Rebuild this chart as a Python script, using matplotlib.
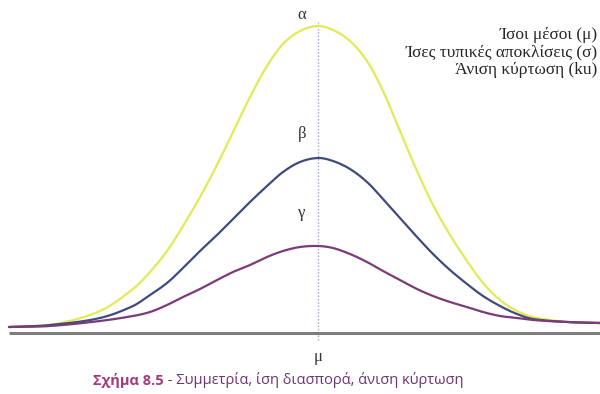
import numpy as np
import matplotlib
matplotlib.use("Agg")
import matplotlib.pyplot as plt

# Horizontal position relative to the common mean (μ = 0)
x_pos = [-3.09, -2.68, -2.18, -1.85, -1.68, -1.51, -1.35, -1.18, -1.01, -0.85,
         -0.68, -0.51, -0.35, -0.18, 0.00, 0.15, 0.32, 0.49, 0.65, 0.82,
         0.99, 1.15, 1.32, 1.49, 1.65, 1.82, 1.99, 2.15, 2.49, 2.82]

# Curve heights of the three distributions
alpha_vals = [0.06, 0.08, 0.22, 0.44, 0.61, 0.82, 1.07, 1.36, 1.68, 2.01,
              2.36, 2.67, 2.89, 3.02, 3.07, 3.03, 2.92, 2.72, 2.42, 2.02,
              1.62, 1.28, 0.98, 0.72, 0.50, 0.33, 0.22, 0.16, 0.11, 0.10]
beta_vals = [0.06, 0.08, 0.15, 0.27, 0.38, 0.50, 0.65, 0.82, 0.98, 1.14,
             1.31, 1.47, 1.61, 1.71, 1.75, 1.72, 1.64, 1.51, 1.34, 1.15,
             0.96, 0.79, 0.63, 0.49, 0.37, 0.27, 0.19, 0.14, 0.11, 0.10]
gamma_vals = [0.06, 0.07, 0.12, 0.17, 0.21, 0.28, 0.36, 0.44, 0.53, 0.61,
              0.68, 0.76, 0.82, 0.86, 0.87, 0.85, 0.79, 0.71, 0.62, 0.53,
              0.44, 0.37, 0.31, 0.26, 0.21, 0.17, 0.15, 0.13, 0.11, 0.10]

curve_labels = ["α", "β", "γ"]
info_lines = ["Ίσοι μέσοι (μ)", "Ίσες τυπικές αποκλίσεις (σ)", "Άνιση κύρτωση (ku)"]
caption_head = "Σχήμα 8.5"
caption_tail = " - Συμμετρία, ίση διασπορά, άνιση κύρτωση"


def hermite_path(xs, ys, steps=20):
    """Smooth y(x) path through the points (cubic Hermite, finite-difference slopes)."""
    xs = np.asarray(xs, float)
    ys = np.asarray(ys, float)
    m = np.empty_like(ys)
    m[1:-1] = (ys[2:] - ys[:-2]) / (xs[2:] - xs[:-2])
    m[0] = (ys[1] - ys[0]) / (xs[1] - xs[0])
    m[-1] = (ys[-1] - ys[-2]) / (xs[-1] - xs[-2])
    px, py = [], []
    for i in range(len(xs) - 1):
        h = xs[i + 1] - xs[i]
        t = np.linspace(0, 1, steps, endpoint=False)
        h00 = 2 * t ** 3 - 3 * t ** 2 + 1
        h10 = t ** 3 - 2 * t ** 2 + t
        h01 = -2 * t ** 3 + 3 * t ** 2
        h11 = t ** 3 - t ** 2
        px.append(xs[i] + t * h)
        py.append(h00 * ys[i] + h10 * h * m[i] + h01 * ys[i + 1] + h11 * h * m[i + 1])
    px.append([xs[-1]])
    py.append([ys[-1]])
    return np.concatenate(px), np.concatenate(py)


fig = plt.figure(figsize=(6.0, 3.94), dpi=100)
ax = fig.add_axes([0, 0, 1, 1])
ax.set_xlim(-3.18, 2.82)
ax.set_ylim(-0.61, 3.33)
ax.axis("off")

# Baseline
ax.plot([x_pos[0], x_pos[-1]], [0, 0], color="#7d7d7d", lw=2.2,
        solid_capstyle="butt", zorder=2)

# Mean line
ax.plot([0, 0], [-0.07, 3.11], color="#a9b4c8", lw=1.0,
        linestyle=(0, (1.2, 1.2)), zorder=1)

colors = ["#e2ea55", "#3f4b7c", "#7a3b78"]
for vals, col in zip([alpha_vals, beta_vals, gamma_vals], colors):
    sx, sy = hermite_path(x_pos, vals)
    ax.plot(sx, sy, color=col, lw=1.6, zorder=3, solid_capstyle="round")

label_font = dict(family="Liberation Serif", fontsize=12, color="#333333",
                  ha="center", va="center")
for lab, ly in zip(curve_labels, [3.18, 1.99, 1.20]):
    ax.text(-0.16, ly, lab, **label_font)
ax.text(0.0, -0.24, "μ", **label_font)

# Descriptive notes in the upper right
for i, line in enumerate(info_lines):
    fig.text(0.996, 1 - (35 + i * 17.5) / 394, line, family="Liberation Serif",
             fontsize=12.5, color="#262626", ha="right", va="center")

# Caption
t1 = fig.text(93 / 600, 1 - 381 / 394, caption_head, family="Open Sans",
              fontsize=10.5, fontweight="bold", color="#a23a7c",
              ha="left", va="center")
ax.annotate(caption_tail, xy=(1, 0), xycoords=t1, va="bottom", ha="left",
            family="Open Sans", fontsize=10.5, color="#6e3474",
            annotation_clip=False)

fig.savefig("out.png", dpi=100, facecolor="white")
